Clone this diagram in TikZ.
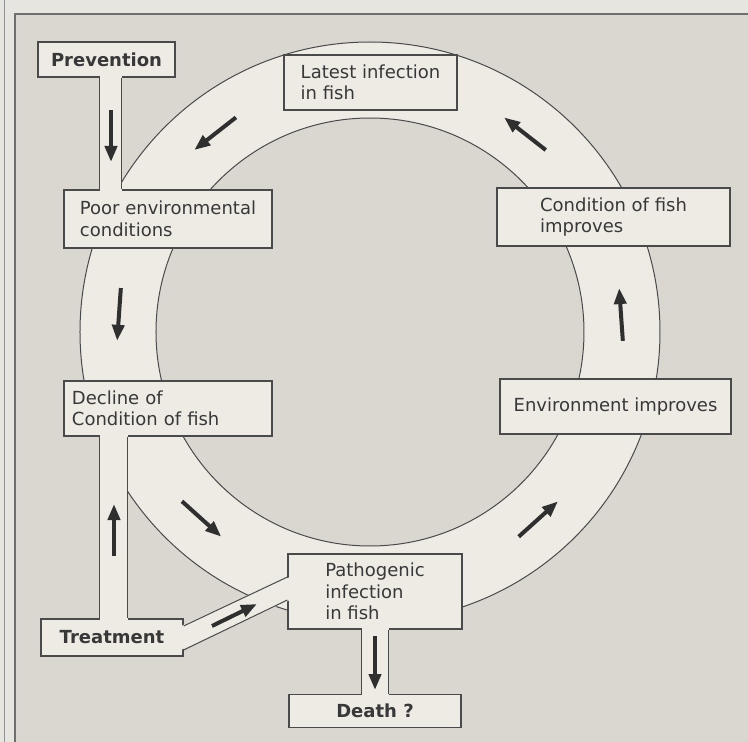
\documentclass[tikz,border=0pt]{standalone}
\usepackage{fontspec}
\setmainfont{DejaVu Sans}
\usetikzlibrary{arrows.meta,positioning}
\definecolor{paper}{HTML}{E7E5E0}
\definecolor{panel}{HTML}{DAD7D1}
\definecolor{band}{HTML}{EEEBE5}
\definecolor{ink}{HTML}{4A4A4A}
\definecolor{pilgrey}{HTML}{2F2F2F}
\tikzset{
    %Define style for boxes on the cycle
    punkt/.style={
           rectangle,
           draw=ink, line width=1.2pt,
           fill=band,
           text=black!78,
           align=left,
           inner sep=0pt,
           font=\fontsize{18}{21.5}\selectfont},
    %Define style for the bold boxes
    fet/.style={punkt, font=\fontsize{18}{21.5}\selectfont\bfseries},
    % thin outline of ring and channels
    kant/.style={draw=ink, line width=1pt},
    % open channel between two boxes
    kanal/.style={draw=band, line cap=butt, shorten <=-2pt, shorten >=-2pt},
    % Define arrow style
    pil/.style={
           -{Triangle[length=16pt,width=12pt]},
           line width=4pt,
           draw=pilgrey}
}
\begin{document}
\begin{tikzpicture}[x=1pt, y=1pt]
 \useasboundingbox (-370,332) rectangle (378,-410);
 % page and frame
 \fill[paper] (-370,332) rectangle (378,-410);
 \fill[panel] (-355,318) rectangle (378,-410);
 \draw[ink!60, line width=1pt] (-365,332) -- (-365,-410);
 \draw[ink!80, line width=2pt] (-355,-410) -- (-355,318) -- (378,318);
 % the ring
 \fill[band, even odd rule] (0,0) circle (290) (0,0) circle (214);
 \draw[kant] (0,0) circle (290) (0,0) circle (214);
 % boxes
 \node[fet, minimum width=137pt, minimum height=35pt] (prev) at (-263.5,272.5) {Prevention};
 \node[punkt, minimum width=173pt, minimum height=55pt] (latest) at (0.5,249.5) {Latest infection\\in fish};
 \node[punkt, minimum width=208pt, minimum height=58pt] (poor) at (-202,113) {Poor environmental\\conditions};
 \node[punkt, minimum width=233pt, minimum height=58pt] (cond) at (243.5,115) {Condition of fish\\improves};
 \node[punkt, minimum height=55pt, text width=192pt, inner xsep=8pt] (decl) at (-202,-76.5) {Decline of\\Condition of fish};
 \node[punkt, minimum width=231pt, minimum height=55pt] (env) at (245.5,-74.5) {Environment improves};
 \node[punkt, minimum width=174pt, minimum height=75pt] (patho) at (5,-259.5) {Pathogenic\\infection\\in fish};
 \node[fet, minimum width=142pt, minimum height=37pt] (treat) at (-258,-305.5) {Treatment};
 \node[fet, minimum width=172pt, minimum height=33pt, below=64pt of patho] (death) {Death ?};
 % stems between boxes
 \foreach \fra/\til/\mx/\bredde in {prev/poor/-259/22, decl/treat/-256/28, patho/death/5.5/27}{
   \draw[kanal, line width=\bredde pt] (\mx,0 |- \fra.south) -- (\mx,0 |- \til.north);
   \draw[kant] (\mx-\bredde/2,0 |- \fra.south) -- (\mx-\bredde/2,0 |- \til.north)
               (\mx+\bredde/2,0 |- \fra.south) -- (\mx+\bredde/2,0 |- \til.north);
 }
 % channel Treatment to Pathogenic infection
 \fill[band] (-189,-294) -- (-80,-245) -- (-80,-268) -- (-189,-318) -- cycle;
 \draw[kant] (treat.east |- 0,-294) -- (patho.west |- 0,-245)
             (treat.east |- 0,-318) -- (patho.west |- 0,-268);
 % arrows
 \foreach \a in {4,52,128,176,228,312}
   \draw[pil] ({\a-6}:253) -- ({\a+6}:253);
 \draw[pil] (-259,222) -- (-259,170);
 \draw[pil] (-256,-224) -- (-256,-172);
 \draw[pil] (5,-304) -- (5,-358);
 \draw[pil] (-158,-294) -- (-113,-272);
\end{tikzpicture}
\end{document}
